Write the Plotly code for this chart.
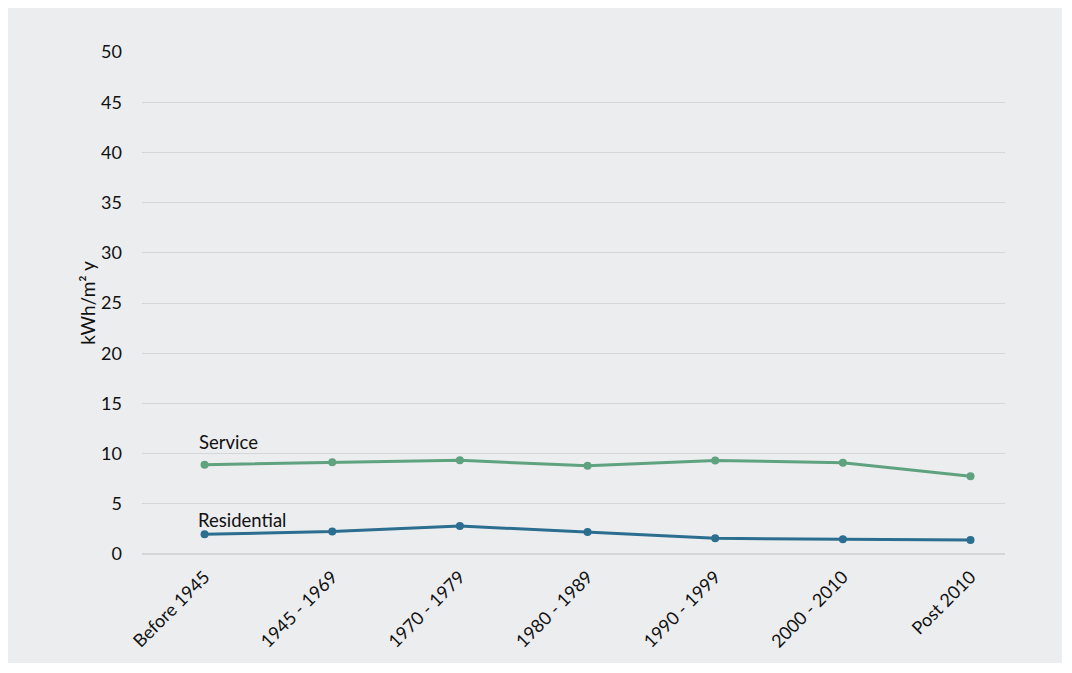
import plotly.graph_objects as go

categories = ["Before 1945", "1945 - 1969", "1970 - 1979", "1980 - 1989",
              "1990 - 1999", "2000 - 2010", "Post 2010"]
service = [8.9, 9.15, 9.33, 8.78, 9.32, 9.1, 7.75]
residential = [1.97, 2.23, 2.79, 2.19, 1.56, 1.46, 1.39]
y_ticks = [0, 5, 10, 15, 20, 25, 30, 35, 40, 45, 50]

GREEN = "#5FA27F"
BLUE = "#2B6E8F"
BG = "#ECEDEF"
GRID = "#D4D6D9"
FONT = "Lato"

fig = go.Figure()
fig.add_trace(go.Scatter(x=categories, y=service, mode="lines+markers",
                         line=dict(color=GREEN, width=3),
                         marker=dict(color=GREEN, size=8), name="Service"))
fig.add_trace(go.Scatter(x=categories, y=residential, mode="lines+markers",
                         line=dict(color=BLUE, width=3),
                         marker=dict(color=BLUE, size=8), name="Residential"))

fig.add_annotation(x=categories[0], y=11.2, text="Service", showarrow=False,
                   xanchor="left", yanchor="middle", xshift=-8,
                   font=dict(family=FONT, size=18.5, color="#111111"))
fig.add_annotation(x=categories[0], y=3.4, text="Residential", showarrow=False,
                   xanchor="left", yanchor="middle", xshift=-9,
                   font=dict(family=FONT, size=18.5, color="#111111"))

fig.update_layout(
    width=1054, height=655,
    paper_bgcolor=BG, plot_bgcolor=BG,
    margin=dict(l=134, r=57, t=44, b=109),
    showlegend=False,
    font=dict(family=FONT, size=17, color="#111111"),
)
fig.update_xaxes(type="category", range=[-0.49, 6.27], showgrid=False,
                 showline=False, ticks="", tickangle=-45, ticklabelstandoff=8,
                 tickfont=dict(family=FONT, size=18, color="#111111"))
fig.update_yaxes(range=[0, 50], tickvals=y_ticks, showgrid=True, gridcolor=GRID,
                 gridwidth=1, zeroline=True, zerolinecolor=GRID, zerolinewidth=1.5,
                 showline=False, ticks="", ticklabelstandoff=19,
                 title=dict(text="kWh/m² y", standoff=0,
                            font=dict(family=FONT, size=19, color="#111111")),
                 tickfont=dict(family=FONT, size=18, color="#111111"))

fig.write_html("out.html")
